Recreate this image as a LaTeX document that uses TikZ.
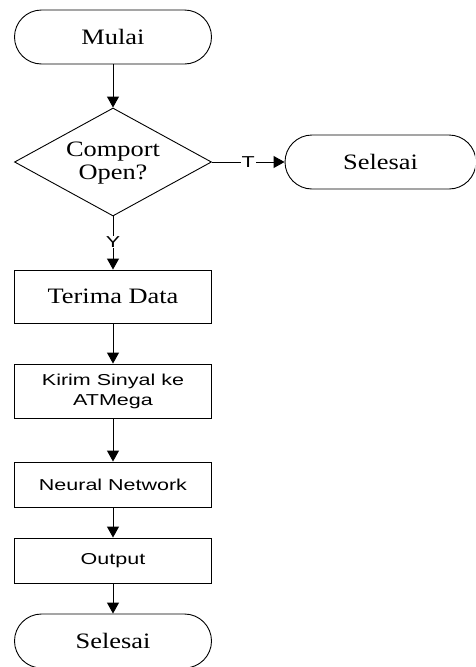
\documentclass[tikz,border=0pt]{standalone}
\usepackage{fontspec}
\setmainfont{Liberation Serif}[FakeStretch=1.2]
\newfontfamily\arialf{Liberation Sans}[FakeStretch=1.36]
\usetikzlibrary{arrows.meta,shapes.geometric}
\begin{document}
\begin{tikzpicture}[x=1pt,y=-1pt,
  line width=0.9pt,
  serift/.style={font=\fontsize{22}{23}\selectfont},
  sanst/.style={font=\arialf\fontsize{15.8}{20}\selectfont},
  term/.style={draw, rectangle, rounded corners=27pt, minimum width=197pt, minimum height=54pt, inner sep=0pt, serift},
  proc/.style={draw, rectangle, minimum width=197pt, inner sep=0pt, align=center},
  dec/.style={draw, diamond, minimum width=197pt, minimum height=108pt, inner sep=0pt},
  arr/.style={-{Triangle[length=11pt,width=12pt]}},
  lbl/.style={fill=white, inner sep=1pt, sanst}
]
\clip (0,0) rectangle (475,667);
\fill[white] (0,0) rectangle (475,667);
\node[term] (mulai) at (113,37) {Mulai};
\node[dec] (cek) at (113,162) {};
\node[serift, align=center] (cektxt) at (113,163) {Comport\\Open?};
\node[term, minimum width=191pt] (selesaiA) at (380.5,162) {Selesai};
\node[proc, serift, minimum height=53pt] (terima) at (113,296.5) {Terima Data};
\node[proc, sanst, minimum height=54pt] (kirim) at (113,391) {Kirim Sinyal ke\\ATMega};
\node[proc, sanst, minimum height=45pt] (nn) at (113,484.5) {Neural Network};
\node[proc, sanst, minimum height=45pt] (out) at (113,560.5) {Output};
\node[term] (selesaiB) at (113,641) {Selesai};

\draw[arr] (mulai) -- (cek);
\draw[arr] (cek.east) -- node[lbl] {T} (selesaiA.west);
\draw[arr] (cek.south) -- node[lbl, pos=0.48] {Y} (terima.north);
\draw[arr] (terima) -- (kirim);
\draw[arr] (kirim) -- (nn);
\draw[arr] (nn) -- (out);
\draw[arr] (out) -- (selesaiB);
\end{tikzpicture}
\end{document}
